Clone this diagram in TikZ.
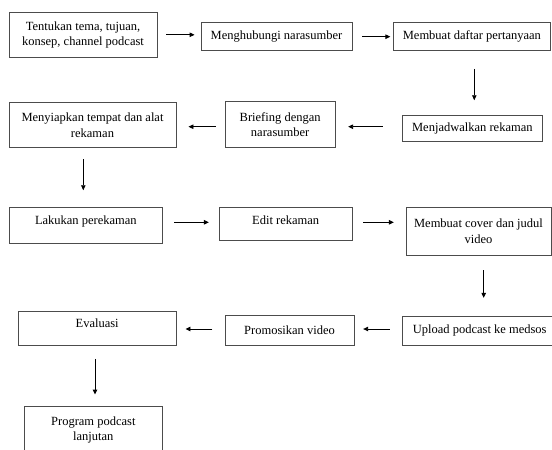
\documentclass[tikz,border=0pt]{standalone}
\usepackage{fontspec}
\setmainfont{Liberation Serif}
\usetikzlibrary{arrows.meta}
\begin{document}
\begin{tikzpicture}[x=1pt,y=-1pt,
  stepbox/.style={draw=black!70, line width=0.9pt, inner sep=0pt, align=center,
    font=\fontsize{12.5}{15.6}\selectfont, text=black},
  arr/.style={draw=black, line width=0.9pt, -{Triangle[length=5pt,width=4.5pt]}}]
\useasboundingbox (0,0) rectangle (552,450);
\clip (0,0) rectangle (552,450);
% row 1
\node[stepbox, minimum width=148pt, minimum height=45pt] (b1) at (83,34.8) {Tentukan tema, tujuan,\\konsep, channel podcast};
\node[stepbox, minimum width=151pt, minimum height=28pt] (b2) at (276.5,36.7) {Menghubungi narasumber};
\node[stepbox, minimum width=157.2pt, minimum height=28pt] (b3) at (471.9,36.7) {Membuat daftar pertanyaan};
% row 2
\node[stepbox, minimum width=139.3pt, minimum height=26pt] (b4) at (472.35,128.7) {Menjadwalkan rekaman};
\node[stepbox, minimum width=110.3pt, minimum height=45.6pt] (b5) at (280.15,124.5) {Briefing dengan\\narasumber};
\node[stepbox, minimum width=167pt, minimum height=44.6pt] (b6) at (92.5,125) {Menyiapkan tempat dan alat\\rekaman};
% row 3
\node[stepbox, minimum width=153.7pt, minimum height=35.6pt, text height=9pt, text depth=10.8pt] (b7) at (85.85,225.5) {Lakukan perekaman};
\node[stepbox, minimum width=132.7pt, minimum height=33pt, text height=9pt, text depth=8.2pt] (b8) at (285.65,224.2) {Edit rekaman};
\node[stepbox, minimum width=145pt, minimum height=47.3pt] (b9) at (478.5,231.35) {Membuat cover dan judul\\video};
% row 4
\node[stepbox, minimum width=154.5pt, minimum height=29.7pt] (b10) at (479.75,330.85) {Upload podcast ke medsos};
\node[stepbox, minimum width=129pt, minimum height=30.7pt] (b11) at (289.5,330.35) {Promosikan video};
\node[stepbox, minimum width=157.7pt, minimum height=34.7pt, text height=9pt, text depth=10pt] (b12) at (97.15,328.35) {Evaluasi};
% row 5
\node[stepbox, minimum width=138.7pt, minimum height=46.3pt] (b13) at (93.35,429.85) {Program podcast\\lanjutan};
% connectors
\draw[arr, shorten <=9pt, shorten >=6pt] (b1.east) -- (b1.east -| b2.west);
\draw[arr, shorten <=10pt, shorten >=2.5pt] (b2.east) -- (b3.west);
\draw[arr, shorten <=17.6pt, shorten >=15pt] ([xshift=2.4pt]b3.south) -- ([xshift=2.4pt]b3.south |- b4.north);
\draw[arr, shorten <=19.4pt, shorten >=12.4pt] ([yshift=2pt]b4.west) -- ([yshift=2pt]b4.west -| b5.east);
\draw[arr, shorten <=9pt, shorten >=12pt] ([yshift=-2.2pt]b5.west) -- ([yshift=-2.2pt]b5.west -| b6.east);
\draw[arr, shorten <=11.7pt, shorten >=17pt] ([xshift=-9.2pt]b6.south) -- ([xshift=-9.2pt]b6.south |- b7.north);
\draw[arr, shorten <=11.3pt, shorten >=10pt] ([yshift=3.2pt]b7.east) -- ([yshift=3.2pt]b7.east -| b8.west);
\draw[arr, shorten <=10.7pt, shorten >=11.7pt] ([yshift=1.9pt]b8.east) -- ([yshift=1.9pt]b8.east -| b9.west);
\draw[arr, shorten <=15pt, shorten >=17.7pt] ([xshift=5.2pt]b9.south) -- ([xshift=5.2pt]b9.south |- b10.north);
\draw[arr, shorten <=12.5pt, shorten >=8.7pt] ([yshift=1.85pt]b10.west) -- ([yshift=1.85pt]b10.west -| b11.east);
\draw[arr, shorten <=12.3pt, shorten >=9pt] ([yshift=1.35pt]b11.west) -- ([yshift=1.35pt]b11.west -| b12.east);
\draw[arr, shorten <=12.6pt, shorten >=11.7pt] ([xshift=-2.15pt]b12.south) -- ([xshift=-2.15pt]b12.south |- b13.north);
\end{tikzpicture}
\end{document}
